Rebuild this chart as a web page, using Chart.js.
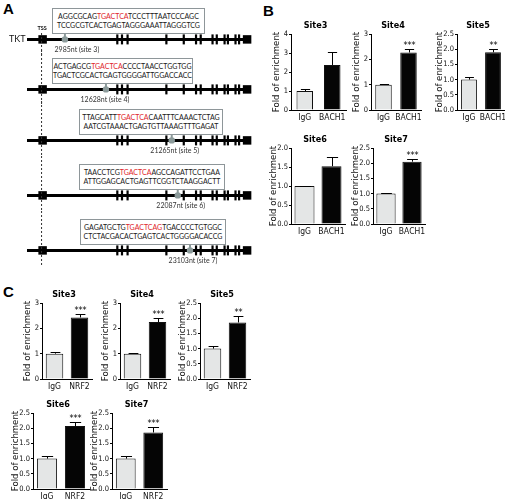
<!DOCTYPE html>
<html>
<head>
<meta charset="utf-8">
<script src="https://cdn.jsdelivr.net/npm/chart.js@4.4.1/dist/chart.umd.min.js"></script>
<style>
  html, body { margin: 0; padding: 0; background: #fff; overflow: hidden; }
  body { width: 505px; height: 499px; position: relative; }
  .abs { position: absolute; }
  .letter { position: absolute; font: bold 15px 'Liberation Sans', Arial, sans-serif; color: #000; }
  .seqbox { position: absolute; box-sizing: border-box; border: 1.5px solid #8e9699; background: #fff;
            font: 7px Lato, 'Open Sans', sans-serif; line-height: 9px; text-align: center; color: #1a1a1a;
            padding-top: 3px; white-space: nowrap; }
  .seqbox span { color: #e0262b; }
</style>
</head>
<body>
<div class="letter" style="left:3px;top:0px;">A</div>
<div class="letter" style="left:263px;top:2px;">B</div>
<div class="letter" style="left:3px;top:283px;">C</div>
<div id="panelA"></div>
<div id="panelB"></div>
<div id="panelC"></div>
<script>
// ---------- panel A : TKT gene schematic (positions in % of drawn gene length) ----------
var exonTicks = [40.5, 42.6, 45.1, 62.5, 70.3, 75.8, 77.9, 83.2, 85.1, 88.6, 90.1, 93.5, 95.1];
var exonBlocks = [7.0, 98.7];
var tssPos = 6.3;
var siteNames = ['site 3', 'site 4', 'site 5', 'site 6', 'site 7'];
var siteNt = [2985, 12628, 21265, 22087, 23103];
var sitePos = [17.0, 35.4, 64.9, 67.6, 73.1];
var seqPre = ['AGGCGCAG', 'ACTGAGCG', 'TTAGCATT', 'TAACCTCG', 'GAGATGCTG'];
var seqMotif = ['TGACTCA', 'TGACTCA', 'TGACTCA', 'TGACTCA', 'TGACTCAG'];
var seqPost = ['TCCCTTTAATCCCAGC', 'CCCCTAACCTGGTGG', 'CAATTTCAAACTCTAG', 'AGCCAGATTCCTGAA', 'TGACCCCTGTGGC'];
var seqRev = ['TCCGCGTCACTGAGTAGGGAAATTAGGGTCG', 'TGACTCGCACTGAGTGGGGATTGGACCACC',
              'AATCGTAAACTGAGTGTTAAAGTTTGAGAT', 'ATTGGAGCACTGAGTTCGGTCTAAGGACTT',
              'CTCTACGACACTGAGTCACTGGGGACACCG'];

// ---------- panels B / C : ChIP fold enrichment ----------
var siteTitles = ['Site3', 'Site4', 'Site5', 'Site6', 'Site7'];
var groupsB = ['IgG', 'BACH1'];
var groupsC = ['IgG', 'NRF2'];
var iggB = [1.0, 1.0, 1.0, 1.0, 1.0];
var iggErrB = [0.12, 0.03, 0.07, 0.01, 0.02];
var bach1 = [2.37, 2.27, 1.90, 1.52, 2.05];
var bach1Err = [0.68, 0.12, 0.10, 0.24, 0.08];
var starsB = ['', '***', '**', '', '***'];
var iggC = [1.0, 1.0, 1.0, 1.0, 1.0];
var iggErrC = [0.07, 0.03, 0.07, 0.07, 0.09];
var nrf2 = [2.43, 2.25, 1.86, 2.07, 1.86];
var nrf2Err = [0.15, 0.17, 0.20, 0.12, 0.18];
var starsC = ['***', '***', '**', '***', '***'];
var yMaxB = [4, 3, 2.5, 2.0, 2.5];
var yMaxC = [3, 3, 2.5, 2.5, 2.5];
var yStepB = [1, 1, 0.5, 0.5, 0.5];
var yStepC = [1, 1, 0.5, 0.5, 0.5];

var NARROW = "'Liberation Sans Narrow', 'Arial Narrow', 'DejaVu Sans Condensed', 'Liberation Sans', sans-serif";
var HUMAN = "Lato, 'Open Sans', sans-serif";

// layout of the gene rows (top of each row block, box left/width, label shift)
var rowTop = [0, 50, 101, 156, 211];
var boxLeft = [52, 52, 79, 79, 80];
var boxWidth = [153, 141, 144, 146, 146];
var labelShift = [12, -1, 3, 3, 3];

var geneRowPlugin = {
    id: 'geneRow',
    afterDatasetsDraw: function (chart) {
        var ctx = chart.ctx;
        var xs = chart.scales.x, ys = chart.scales.y;
        var r = chart.options.plugins.geneRow.row;
        var y0 = ys.getPixelForValue(0);
        var tx = xs.getPixelForValue(tssPos);
        ctx.save();
        // dashed TSS line
        ctx.strokeStyle = '#333';
        ctx.lineWidth = 1;
        ctx.setLineDash([2, 2]);
        ctx.beginPath();
        ctx.moveTo(tx + 0.5, r == 0 ? 33 : 0);
        ctx.lineTo(tx + 0.5, chart.height);
        ctx.stroke();
        ctx.setLineDash([]);
        // stem from site to box
        var sx = xs.getPixelForValue(sitePos[r]);
        ctx.strokeStyle = '#8b9a9a';
        ctx.lineWidth = 2;
        ctx.beginPath();
        ctx.moveTo(sx, y0 - 2);
        ctx.lineTo(sx, 34);
        ctx.stroke();
        ctx.fillStyle = '#8b9a9a';
        ctx.beginPath();
        ctx.arc(sx, y0, 3.2, 0, Math.PI * 2);
        ctx.fill();
        // site label
        ctx.fillStyle = '#333';
        ctx.font = '7px ' + HUMAN;
        ctx.textAlign = 'center';
        ctx.textBaseline = 'middle';
        ctx.fillText(siteNt[r] + 'nt (' + siteNames[r] + ')', sx + labelShift[r], y0 + 10);
        if (r == 0) {
            ctx.font = '9px ' + HUMAN;
            ctx.textAlign = 'left';
            ctx.fillStyle = '#111';
            ctx.fillText('TKT', 9, y0);
            ctx.font = 'bold 5.5px ' + HUMAN;
            ctx.textAlign = 'center';
            ctx.fillText('TSS', tx + 1, 28);
        }
        ctx.restore();
    }
};

function GeneRow(r) {
    var holder = document.createElement('div');
    holder.className = 'abs';
    holder.style.left = '0px';
    holder.style.top = rowTop[r] + 'px';
    holder.style.width = '258px';
    holder.style.height = '55px';
    var cv = document.createElement('canvas');
    cv.width = 258; cv.height = 55;
    cv.style.position = 'absolute'; cv.style.left = '0px'; cv.style.top = '0px';
    holder.appendChild(cv);
    var box = document.createElement('div');
    box.className = 'seqbox';
    box.style.left = boxLeft[r] + 'px';
    box.style.top = '8px';
    box.style.width = boxWidth[r] + 'px';
    box.style.height = '26px';
    box.innerHTML = seqPre[r] + '<span>' + seqMotif[r] + '</span>' + seqPost[r] + '<br>' + seqRev[r];
    holder.appendChild(box);
    document.getElementById('panelA').appendChild(holder);

    new Chart(cv.getContext('2d'), {
        type: 'scatter',
        data: {
            datasets: [
                { data: exonTicks.map(function (x) { return { x: x, y: 0 }; }), pointStyle: 'line', rotation: 90,
                  pointRadius: 5, borderWidth: 2.2, borderColor: '#000', order: 1, clip: false },
                { data: exonBlocks.map(function (x) { return { x: x, y: 0 }; }), pointStyle: 'rect',
                  pointRadius: 6, backgroundColor: '#000', borderColor: '#000', borderWidth: 0, order: 2, clip: false },
                { data: [{ x: 0, y: 0 }, { x: 100, y: 0 }], showLine: true, borderColor: '#000', borderWidth: 3,
                  pointRadius: 0, order: 3, clip: false }
            ]
        },
        options: {
            responsive: false, animation: false, events: [], devicePixelRatio: 1,
            layout: { padding: { left: 27, right: 8, top: 31, bottom: 0 } },
            scales: {
                x: { type: 'linear', min: 0, max: 100, display: false },
                y: { type: 'linear', min: -1, max: 1, display: false }
            },
            plugins: { legend: { display: false }, tooltip: { enabled: false }, geneRow: { row: r } }
        },
        plugins: [geneRowPlugin]
    });
}
for (var r = 0; r < 5; r++) GeneRow(r);

// ---------- bar charts ----------
var errorBarPlugin = {
    id: 'errBars',
    afterDatasetsDraw: function (chart) {
        var o = chart.options.plugins.errBars;
        var ctx = chart.ctx;
        var ys = chart.scales.y;
        var meta = chart.getDatasetMeta(0);
        ctx.save();
        ctx.strokeStyle = '#000';
        ctx.fillStyle = '#000';
        ctx.lineWidth = 1;
        meta.data.forEach(function (el, i) {
            var v = chart.data.datasets[0].data[i];
            var yTop = Math.round(ys.getPixelForValue(v + o.err[i]));
            var x = Math.round(el.x) + 0.5;
            var cap = el.width * 0.28;
            ctx.beginPath();
            ctx.moveTo(x, el.y);
            ctx.lineTo(x, yTop);
            ctx.moveTo(x - cap, yTop + 0.5);
            ctx.lineTo(x + cap, yTop + 0.5);
            ctx.stroke();
            if (i == 1 && o.stars) {
                ctx.font = '9px ' + NARROW;
                ctx.textAlign = 'center';
                ctx.textBaseline = 'alphabetic';
                ctx.fillText(o.stars, x, yTop - 1);
            }
        });
        // chart title
        var ca = chart.chartArea;
        ctx.font = 'bold 9px ' + NARROW;
        ctx.textAlign = 'center';
        ctx.textBaseline = 'middle';
        ctx.fillText(o.title, (ca.left + ca.right) / 2 - 3, ca.top - 8);
        ctx.restore();
    }
};

function BarChart(parentId, axisX, topPx, bottomPx, plotW, barPct, labels, vals, errs, yMax, yStep, stars, title) {
    var dec = yStep < 1;
    var yW = dec ? 23 : 20;
    var padTop = 14, xH = 16, padRight = 8;
    var left = Math.round(axisX - yW);
    var top = Math.round(topPx - padTop);
    var plotH = Math.round(bottomPx - topPx);
    var cv = document.createElement('canvas');
    cv.width = yW + plotW + padRight;
    cv.height = padTop + plotH + xH;
    cv.style.position = 'absolute';
    cv.style.left = left + 'px';
    cv.style.top = top + 'px';
    document.getElementById(parentId).appendChild(cv);

    new Chart(cv.getContext('2d'), {
        type: 'bar',
        data: {
            labels: labels,
            datasets: [{
                data: vals,
                backgroundColor: ['#e4e6e6', '#050505'],
                borderColor: '#111',
                borderWidth: 1,
                barPercentage: barPct,
                categoryPercentage: 1
            }]
        },
        options: {
            responsive: false, animation: false, events: [], devicePixelRatio: 1,
            layout: { padding: { left: 0, top: padTop, right: padRight, bottom: 0 } },
            scales: {
                x: {
                    grid: { display: false, drawTicks: false },
                    border: { display: true, color: '#000', width: 1 },
                    ticks: { color: '#111', font: { family: NARROW, size: 8.5 }, padding: 3, maxRotation: 0,
                             autoSkip: false },
                    afterFit: function (s) { s.height = xH; }
                },
                y: {
                    min: 0, max: yMax,
                    grid: { display: true, drawOnChartArea: false, drawTicks: true, tickLength: 2, color: '#000' },
                    border: { display: true, color: '#000', width: 1 },
                    ticks: { stepSize: yStep, color: '#111', font: { family: NARROW, size: 7.5 }, padding: 1,
                             callback: function (v) { return dec ? v.toFixed(1) : v; } },
                    title: { display: true, text: 'Fold of enrichment', color: '#111',
                             font: { family: NARROW, size: 9.5, lineHeight: 1 }, padding: { top: 1, bottom: 0 } },
                    afterFit: function (s) { s.width = yW; }
                }
            },
            plugins: { legend: { display: false }, tooltip: { enabled: false },
                       errBars: { err: errs, stars: stars, title: title } }
        },
        plugins: [errorBarPlugin]
    });
}

// panel B
var bAxis = [290.7, 370.7, 457, 291, 372.7];
var bTop = [33.5, 33.5, 33.5, 147.7, 147.7];
var bBottom = [109.3, 109.3, 109.3, 223.7, 223.7];
var bW = [55, 50, 48, 54, 52];
var bPct = [0.6, 0.66, 0.66, 0.74, 0.74];
for (var i = 0; i < 5; i++) {
    BarChart('panelB', bAxis[i], bTop[i], bBottom[i], bW[i], bPct[i], groupsB,
        [iggB[i], bach1[i]], [iggErrB[i], bach1Err[i]], yMaxB[i], yStepB[i], starsB[i], siteTitles[i]);
}
// panel C
var cAxis = [41.7, 120, 200, 32.5, 112];
var cTop = [303.3, 303.3, 303.3, 413.3, 413.3];
var cBottom = [379.3, 379.3, 379.3, 489, 489];
var cW = [50, 50, 50, 56, 55];
var cPct = [0.7, 0.7, 0.7, 0.72, 0.72];
for (var j = 0; j < 5; j++) {
    BarChart('panelC', cAxis[j], cTop[j], cBottom[j], cW[j], cPct[j], groupsC,
        [iggC[j], nrf2[j]], [iggErrC[j], nrf2Err[j]], yMaxC[j], yStepC[j], starsC[j], siteTitles[j]);
}
</script>
</body>
</html>
